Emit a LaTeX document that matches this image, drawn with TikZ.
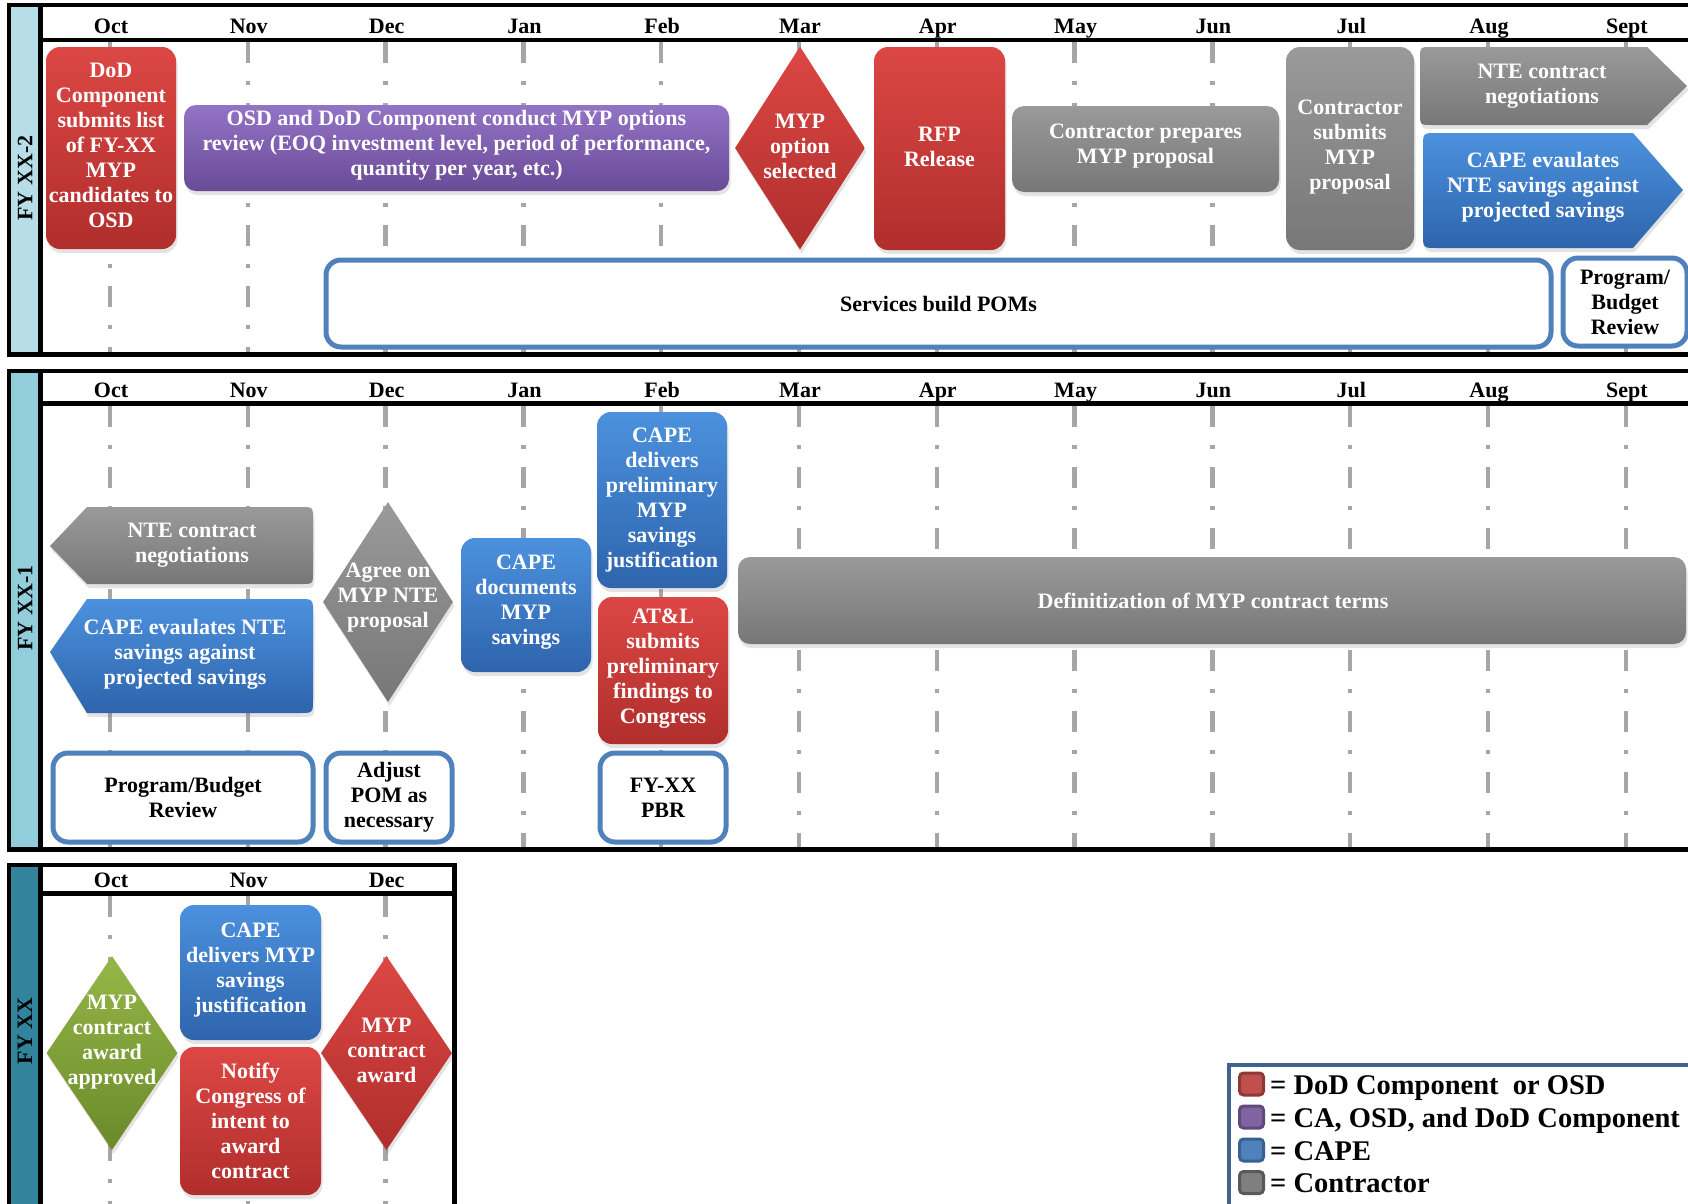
\documentclass[tikz,border=0pt]{standalone}
\usepackage{fontspec}
\setmainfont{Liberation Serif}
\usetikzlibrary{shapes.geometric,shadows}

\definecolor{redT}{HTML}{DC4744}
\definecolor{redB}{HTML}{B02E2C}
\definecolor{purT}{HTML}{9373C5}
\definecolor{purB}{HTML}{6A4B97}
\definecolor{bluT}{HTML}{4C91DE}
\definecolor{bluB}{HTML}{2E64AC}
\definecolor{gryT}{HTML}{9A9A9A}
\definecolor{gryB}{HTML}{777777}
\definecolor{grnT}{HTML}{95B647}
\definecolor{grnB}{HTML}{6A8A2B}
\definecolor{gridc}{HTML}{A6A6A6}
\definecolor{outl}{HTML}{4F81BD}
\definecolor{stripA}{HTML}{B7DEE8}
\definecolor{stripB}{HTML}{92CDDC}
\definecolor{stripC}{HTML}{31849B}
\definecolor{legb}{HTML}{41628F}
\definecolor{lgRed}{HTML}{C0504D}
\definecolor{lgRedD}{HTML}{8C3A37}
\definecolor{lgPur}{HTML}{8064A2}
\definecolor{lgPurD}{HTML}{5F4A7B}
\definecolor{lgBlu}{HTML}{4F81BD}
\definecolor{lgBluD}{HTML}{3A6091}
\definecolor{lgGry}{HTML}{7F7F7F}
\definecolor{lgGryD}{HTML}{595959}

\tikzset{
  lbl/.style={font=\fontsize{22}{25}\selectfont\bfseries, align=center, inner sep=0pt},
  wt/.style={lbl, text=white},
  bk/.style={lbl, text=black},
  mon/.style={font=\fontsize{22}{25}\selectfont\bfseries, inner sep=0pt, anchor=base},
  sh/.style={drop shadow={opacity=0.22, shadow xshift=1.5pt, shadow yshift=-4pt}},
  redfill/.style={top color=redT, bottom color=redB},
  purfill/.style={top color=purT, bottom color=purB},
  blufill/.style={top color=bluT, bottom color=bluB},
  gryfill/.style={top color=gryT, bottom color=gryB},
  grnfill/.style={top color=grnT, bottom color=grnB},
  rbox/.style={rectangle, rounded corners=14pt, sh, wt},
  dia/.style={diamond, inner sep=0pt, sh},
  wbox/.style={rectangle, rounded corners=15pt, draw=outl, line width=5pt, fill=white, bk},
  grid/.style={draw=gridc, line width=4.5pt, dash pattern=on 21pt off 18pt on 4pt off 18pt},
  frame/.style={line width=4.5pt, black},
  legsq/.style={rectangle, rounded corners=4pt, line width=3pt, minimum width=24pt, minimum height=22pt, inner sep=0pt},
  legt/.style={font=\fontsize{28.5}{33}\selectfont\bfseries, inner sep=0pt, anchor=base west},
}

\begin{document}
\begin{tikzpicture}[x=1pt,y=-1pt]
\path[use as bounding box] (0,0) rectangle (1688,1203);
\clip (0,0) rectangle (1688,1203);
\fill[white] (0,0) rectangle (1688,1203);

% ================= Panel 1 : FY XX-2 =================
\fill[stripA] (9,5) rectangle (40.5,354.5);
\foreach \i in {0,...,11} \draw[grid] ({110+137.8*\i},42) -- ({110+137.8*\i},354);
\foreach \m [count=\i from 0] in {Oct,Nov,Dec,Jan,Feb,Mar,Apr,May,Jun,Jul,Aug,Sept}
  \node[mon] (pa-\i) at ({111+137.8*\i},33) {\m};
\node[lbl, rotate=90] (fya) at (25,178) {FY XX-2};

\node[rbox, redfill, minimum width=130pt, minimum height=202pt] (a1) at (111,148) {};
\node[wt] (a1t) at (111,145.5) {DoD\\Component\\submits list\\of FY-XX\\MYP\\candidates to\\OSD};
\node[rbox, purfill, rounded corners=12pt, minimum width=545pt, minimum height=86pt] (a2) at (456.5,148) {};
\node[wt] (a2t) at (456.5,145) {OSD and DoD Component conduct MYP options\\review (EOQ investment level, period of performance,\\quantity per year, etc.)};
\node[dia, redfill, minimum width=130pt, minimum height=203pt] (a3) at (800,148) {};
\node[wt] (a3t) at (800,146) {MYP\\option\\selected};
\node[rbox, redfill, minimum width=131pt, minimum height=203pt] (a4) at (939.5,148.5) {};
\node[wt] (a4t) at (939.5,146.5) {RFP\\Release};
\node[rbox, gryfill, rounded corners=12pt, minimum width=267pt, minimum height=86pt] (a5) at (1145.5,149) {};
\node[wt] (a5t) at (1145.5,146.5) {Contractor prepares\\MYP proposal};
\node[rbox, gryfill, minimum width=128pt, minimum height=203pt] (a6) at (1350,148.5) {};
\node[wt] (a6t) at (1350,147.5) {Contractor\\submits\\MYP\\proposal};
\path[gryfill, sh] (1687,86) -- (1647,47) -- (1432,47) .. controls (1420,47) .. (1420,59) -- (1420,113) .. controls (1420,125) .. (1432,125) -- (1647,125) -- cycle;
\node[wt] (a7) at (1542,86) {NTE contract\\negotiations};
\path[blufill, sh] (1683,190) -- (1633,133) -- (1437,133) .. controls (1423,133) .. (1423,147) -- (1423,234) .. controls (1423,248) .. (1437,248) -- (1633,248) -- cycle;
\node[wt] (a8) at (1543,187) {CAPE evaulates\\NTE savings against\\projected savings};
\node[wbox, minimum width=1225pt, minimum height=87pt] (a9) at (938.5,303.5) {Services build POMs};
\node[wbox, minimum width=124pt, minimum height=88pt] (a10) at (1625,302) {Program/\\Budget\\Review};

\draw[frame] (1700,5) -- (9,5) -- (9,354.5) -- (1700,354.5);
\draw[frame] (40.5,5) -- (40.5,354.5);
\draw[frame] (40.5,40) -- (1700,40);

% ================= Panel 2 : FY XX-1 =================
\fill[stripB] (9,371) rectangle (40.5,849.5);
\foreach \i in {0,...,11} \draw[grid] ({110+137.8*\i},406) -- ({110+137.8*\i},848);
\foreach \m [count=\i from 0] in {Oct,Nov,Dec,Jan,Feb,Mar,Apr,May,Jun,Jul,Aug,Sept}
  \node[mon] (pb-\i) at ({111+137.8*\i},397) {\m};
\node[lbl, rotate=90] (fyb) at (25,608) {FY XX-1};

\path[gryfill, sh] (50,546) -- (87,507) -- (301,507) .. controls (313,507) .. (313,519) -- (313,572) .. controls (313,584) .. (301,584) -- (87,584) -- cycle;
\node[wt] (b1) at (192,545) {NTE contract\\negotiations};
\path[blufill, sh] (50,652) -- (87,599) -- (299,599) .. controls (313,599) .. (313,613) -- (313,699) .. controls (313,713) .. (299,713) -- (87,713) -- cycle;
\node[wt] (b2) at (185,654) {CAPE evaulates NTE\\savings against\\projected savings};
\node[dia, gryfill, minimum width=130pt, minimum height=200pt] (b3) at (388,602) {};
\node[wt] (b3t) at (388,598) {Agree on\\MYP NTE\\proposal};
\node[rbox, blufill, minimum width=130pt, minimum height=134pt] (b4) at (526,605) {};
\node[wt] (b4t) at (526,602.5) {CAPE\\documents\\MYP\\savings};
\node[rbox, blufill, minimum width=130pt, minimum height=176pt] (b5) at (662,500) {};
\node[wt] (b5t) at (662,500) {CAPE\\delivers\\preliminary\\MYP\\savings\\justification};
\node[rbox, redfill, minimum width=130pt, minimum height=147pt] (b6) at (663,670.5) {};
\node[wt] (b6t) at (663,668.5) {AT\&L\\submits\\preliminary\\findings to\\Congress};
\node[rbox, gryfill, rounded corners=12pt, minimum width=948pt, minimum height=87pt] (b7) at (1212,600.5) {};
\node[wt] (b7t) at (1213,600.5) {Definitization of MYP contract terms};
\node[wbox, minimum width=260pt, minimum height=89pt] (b8) at (183,797.5) {Program/Budget\\Review};
\node[wbox, minimum width=126pt, minimum height=89pt] (b9) at (389,797.5) {Adjust\\POM as\\necessary};
\node[wbox, minimum width=126pt, minimum height=89pt] (b10) at (663,797.5) {FY-XX\\PBR};

\draw[frame] (1700,371) -- (9,371) -- (9,849.5) -- (1700,849.5);
\draw[frame] (40.5,371) -- (40.5,849.5);
\draw[frame] (40.5,403.3) -- (1700,403.3);

% ================= Panel 3 : FY XX =================
\fill[stripC] (9,865) rectangle (40.5,1215);
\foreach \i in {0,1,2} \draw[grid] ({110+137.8*\i},896) -- ({110+137.8*\i},1215);
\foreach \m [count=\i from 0] in {Oct,Nov,Dec}
  \node[mon] (pc-\i) at ({111+137.8*\i},887) {\m};
\node[lbl, rotate=90] (fyc) at (25,1031) {FY XX};

\node[dia, grnfill, minimum width=131pt, minimum height=194pt] (c1) at (112,1053) {};
\node[wt] (c1t) at (112,1042) {MYP\\contract\\award\\approved};
\node[rbox, blufill, minimum width=141pt, minimum height=135pt] (c2) at (250.5,972.5) {};
\node[wt] (c2t) at (250.5,970.5) {CAPE\\delivers MYP\\savings\\justification};
\node[rbox, redfill, minimum width=141pt, minimum height=148pt] (c3) at (250.5,1121) {};
\node[wt] (c3t) at (250.5,1121) {Notify\\Congress of\\intent to\\award\\contract};
\node[dia, redfill, minimum width=131pt, minimum height=194pt] (c4) at (386.5,1053) {};
\node[wt] (c4t) at (386.5,1050) {MYP\\contract\\award};

\draw[frame] (9,1215) -- (9,865) -- (454.5,865) -- (454.5,1215);
\draw[frame] (40.5,865) -- (40.5,1215);
\draw[frame] (40.5,893.3) -- (454.5,893.3);

% ================= Legend =================
\draw[legb, line width=4.5pt, fill=white] (1229,1065) rectangle (1700,1215);
\node[legsq, fill=lgRed, draw=lgRedD] (l1) at (1251.5,1084) {};
\node[legsq, fill=lgPur, draw=lgPurD] (l2) at (1251.5,1117) {};
\node[legsq, fill=lgBlu, draw=lgBluD] (l3) at (1251.5,1150) {};
\node[legsq, fill=lgGry, draw=lgGryD] (l4) at (1251.5,1182.5) {};
\node[legt] (l1t) at (1270,1094) {= DoD Component\ \ or OSD};
\node[legt] (l2t) at (1270,1127) {= CA, OSD, and DoD Component};
\node[legt] (l3t) at (1270,1160) {= CAPE};
\node[legt] (l4t) at (1270,1192) {= Contractor};
\end{tikzpicture}
\end{document}
